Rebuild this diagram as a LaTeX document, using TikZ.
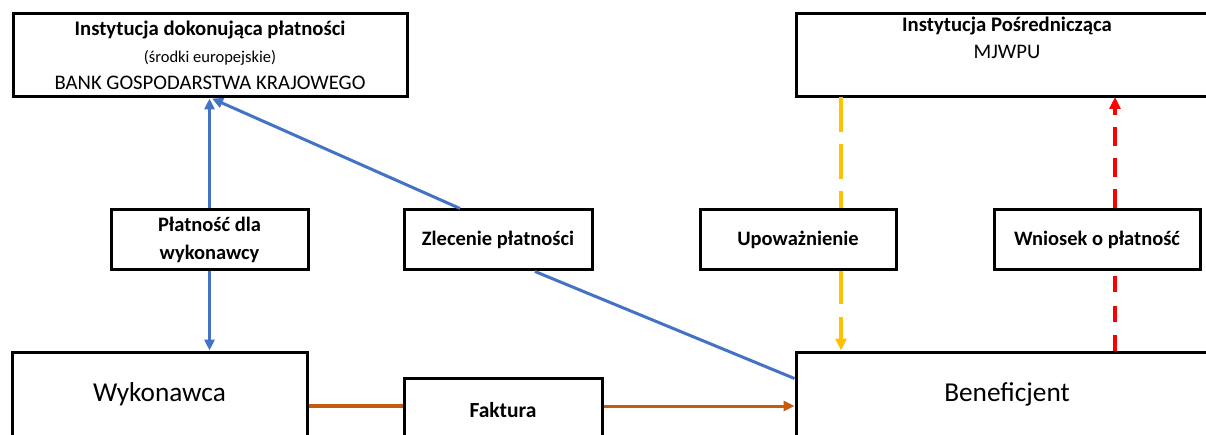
\documentclass[tikz,border=0pt]{standalone}
\usepackage{fontspec}
\setmainfont{Carlito}
\usetikzlibrary{arrows.meta,calc}
\definecolor{cblue}{HTML}{4472C4}
\definecolor{corange}{HTML}{C55A11}
\definecolor{cyellow}{HTML}{FFC000}
\definecolor{cred}{HTML}{FF0000}
\tikzset{
  box/.style={draw=black,line width=3pt,inner sep=0pt,align=center,text=black},
  bluearr/.style={draw=cblue,line width=3pt,-{Triangle[length=11pt,width=10pt]}},
  blueline/.style={draw=cblue,line width=3pt},
  orline/.style={draw=corange,line width=3.5pt},
  orarr/.style={draw=corange,line width=3pt,-{Triangle[length=11pt,width=10pt]}},
  yline/.style={draw=cyellow,line width=3.5pt,dash pattern=on 35pt off 12pt},
  yarr/.style={draw=cyellow,line width=3.5pt,dash pattern=on 32pt off 13pt,-{Triangle[length=12pt,width=11pt]}},
  rline/.style={draw=cred,line width=3.5pt,dash pattern=on 16pt off 13pt},
  rarr/.style={draw=cred,line width=3.5pt,dash pattern=on 19pt off 12pt,-{Triangle[length=12pt,width=11pt]}},
}
\begin{document}
\begin{tikzpicture}[x=1pt,y=-1pt]
\useasboundingbox (0,0) rectangle (1206,435);
\clip (0,0) rectangle (1206,435);
\fill[white] (0,0) rectangle (1206,435);
% boxes
\node[box,minimum width=394pt,minimum height=83pt,font=\fontsize{20.7}{27}\selectfont] (bgk) at (210,55.5)
  {\bfseries Instytucja dokonująca płatności\\{\fontsize{16.5}{27}\selectfont (środki europejskie)}\\BANK GOSPODARSTWA KRAJOWEGO};
\node[box,minimum width=422pt,minimum height=83pt,font=\fontsize{20.7}{27}\selectfont] (ip) at (1007,55.5)
  {\bfseries Instytucja Pośrednicząca\\MJWPU\\\strut};
\node[box,minimum width=197pt,minimum height=60pt,font=\bfseries\fontsize{20.5}{28}\selectfont] (plat) at (209.5,240)
  {Płatność dla\\wykonawcy};
\node[box,minimum width=188pt,minimum height=60pt,font=\bfseries\fontsize{20.5}{28}\selectfont] (zlec) at (498,240)
  {Zlecenie płatności};
\node[box,minimum width=196pt,minimum height=60pt,font=\bfseries\fontsize{20.5}{28}\selectfont] (upo) at (798,240)
  {Upoważnienie};
\node[box,minimum width=206pt,minimum height=60pt,font=\bfseries\fontsize{20.5}{28}\selectfont] (wni) at (1097,240)
  {Wniosek o płatność};
\node[box,minimum width=295pt,minimum height=84pt,font=\fontsize{27.3}{30}\selectfont] (wyk) at (159.5,394)
  {Wykonawca};
\node[box,minimum width=198pt,minimum height=64pt,font=\bfseries\fontsize{21.5}{24}\selectfont] (fak) at (503,410)
  {Faktura};
\node[box,minimum width=422pt,minimum height=84pt,font=\fontsize{27.3}{30}\selectfont] (ben) at (1007,394)
  {Beneficjent};
% blue
\draw[bluearr] (plat.north) -- (plat.north |- bgk.south);
\coordinate (zlecTop) at ($(zlec.north)+(-38,0)$);
\draw[bluearr] (zlecTop) -- ($(bgk.south)+(2,0)$);
\draw[bluearr] (plat.south) -- (plat.south |- wyk.north);
\coordinate (zlecBot) at ($(zlec.south)+(37,0)$);
\coordinate (benIn) at ($(ben.north west)+(0,28)$);
\draw[blueline] (zlecBot) -- (benIn);
% orange
\coordinate (wykOut) at ($(wyk.east)+(0,12)$);
\coordinate (fakIn) at (fak.west |- wykOut);
\coordinate (fakOut) at (fak.east |- wykOut);
\coordinate (benIn2) at (ben.west |- wykOut);
\draw[orline] (wykOut) -- (fakIn);
\draw[orarr] (fakOut) -- (benIn2);
% yellow
\coordinate (ipY) at (841,97);
\draw[yline] (ipY) -- (ipY |- upo.north);
\draw[yarr] (ipY |- upo.south) -- (ipY |- ben.north);
% red
\coordinate (ipR) at (1115,97);
\draw[rline] (ipR |- ben.north) -- (ipR |- wni.south);
\draw[rarr] (ipR |- wni.north) -- (ipR);
\end{tikzpicture}
\end{document}
